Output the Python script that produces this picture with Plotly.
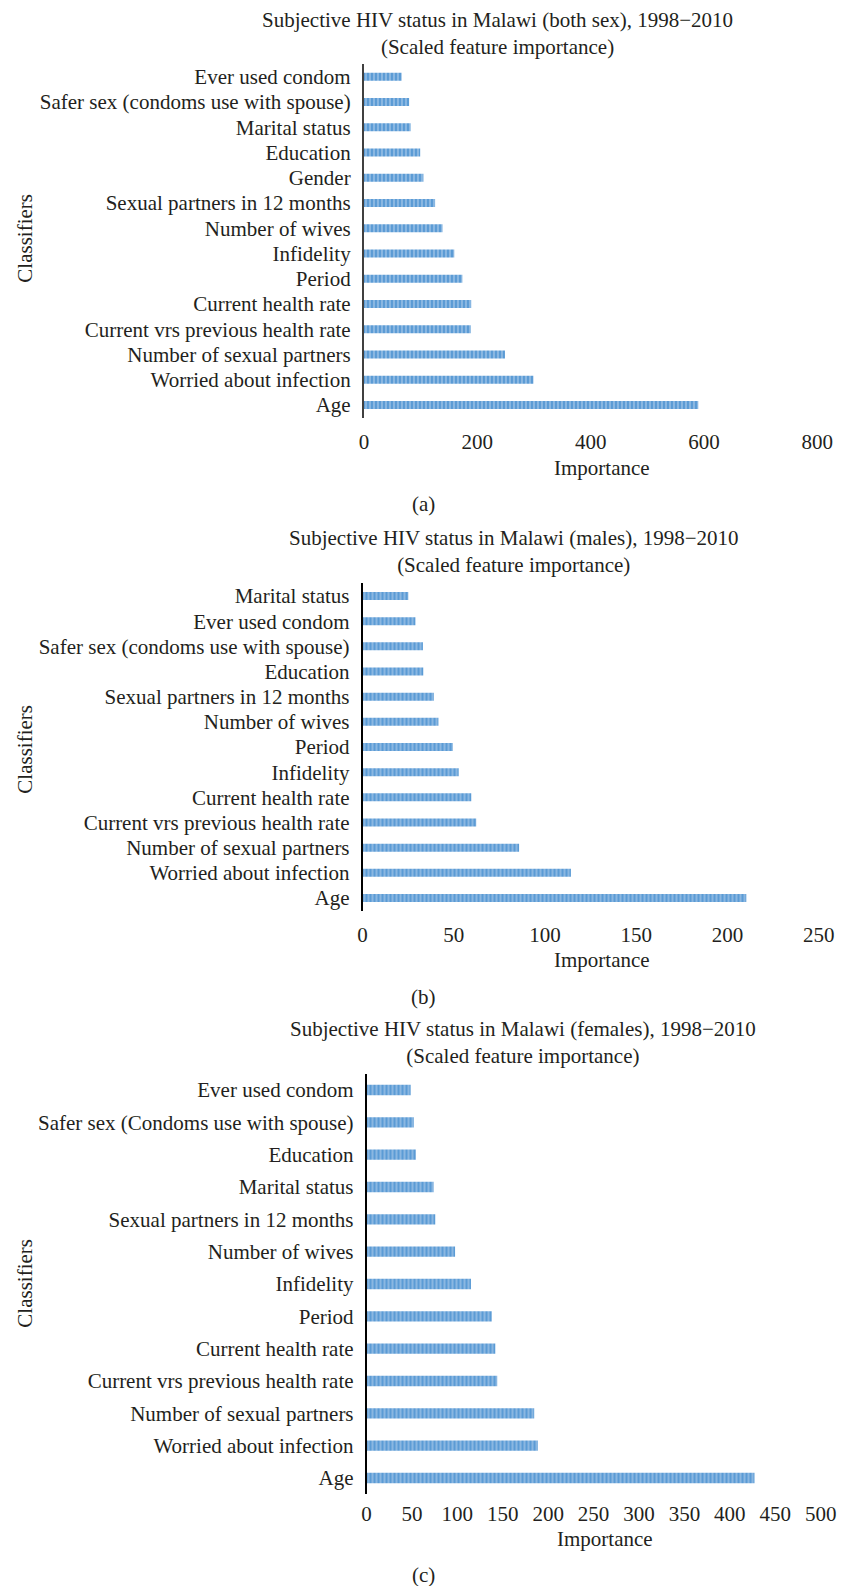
import plotly.graph_objects as go

W, H = 853, 1594
OFF = 8                      # default page margin of the html body
FW, FH = W - 2 * OFF, H - 2 * OFF

cats_a = ["Ever used condom", "Safer sex (condoms use with spouse)", "Marital status", "Education",
          "Gender", "Sexual partners in 12 months", "Number of wives", "Infidelity", "Period",
          "Current health rate", "Current vrs previous health rate", "Number of sexual partners",
          "Worried about infection", "Age"]
vals_a = [66.5, 79.7, 82.5, 99.2, 104.9, 125.5, 138.7, 159.4, 173.7, 189.2, 188.6, 248.8, 299, 590]

cats_b = ["Marital status", "Ever used condom", "Safer sex (condoms use with spouse)", "Education",
          "Sexual partners in 12 months", "Number of wives", "Period", "Infidelity",
          "Current health rate", "Current vrs previous health rate", "Number of sexual partners",
          "Worried about infection", "Age"]
vals_b = [25.1, 29.0, 33.1, 33.3, 39.1, 41.6, 49.5, 52.7, 59.6, 62.3, 85.8, 114.2, 210.3]

cats_c = ["Ever used condom", "Safer sex (Condoms use with spouse)", "Education", "Marital status",
          "Sexual partners in 12 months", "Number of wives", "Infidelity", "Period",
          "Current health rate", "Current vrs previous health rate", "Number of sexual partners",
          "Worried about infection", "Age"]
vals_c = [48.6, 52.1, 54.3, 73.9, 75.7, 97.5, 115.0, 137.9, 141.8, 143.9, 184.6, 188.6, 427.1]

titles = ["Subjective HIV status in Malawi (both sex), 1998\u22122010<br>(Scaled feature importance)",
          "Subjective HIV status in Malawi (males), 1998\u22122010<br>(Scaled feature importance)",
          "Subjective HIV status in Malawi (females), 1998\u22122010<br>(Scaled feature importance)"]
x_ranges = [[0, 800], [0, 250], [0, 500]]
x_dtick = [200, 50, 50]
panel_letters = ["(a)", "(b)", "(c)"]

FONT = "Liberation Serif"
FS = 21
TXT = "#231F20"
BLUE = "#5B9BD5"
LIGHT = "#E2EDF8"


def X(p):
    return (p - OFF) / FW


def Y(p):
    return 1 - (p - OFF) / FH


# pixel layout in the page
px_y = [(64.1, 417.6), (583.4, 910.6), (1073.8, 1494.2)]
px_x = [(368, 833), (366.5, 834.5), (370.6, 836.5)]
title_xy = [(505, 34), (521, 551), (531, 1042)]
imp_xy = [(612, 468), (612, 959.5), (615, 1539)]
letter_xy = [(429, 504), (429, 997), (429, 1575)]
class_y = [238, 749, 1283]
ticklens = [5, 5, 1]
axis_line = [("#404040", 2.2), ("#000000", 1.5), ("#000000", 1.5)]

fig = go.Figure()
data = [(cats_a, vals_a), (cats_b, vals_b), (cats_c, vals_c)]
for i, (cats, vals) in enumerate(data):
    n = "" if i == 0 else str(i + 1)
    fig.add_trace(go.Bar(
        x=vals, y=cats, orientation="h",
        xaxis="x" + n, yaxis="y" + n,
        marker=dict(color=BLUE, line=dict(width=0),
                    pattern=dict(shape="|", fgcolor=LIGHT, bgcolor=BLUE, size=4, solidity=0.35)),
        width=0.32, showlegend=False, hoverinfo="x+y"))
    x0, x1 = px_x[i]
    yt, yb = px_y[i]
    fig.update_layout({
        "xaxis" + n: dict(domain=[X(x0), X(x1)], range=x_ranges[i], dtick=x_dtick[i],
                          anchor="y" + n, showgrid=False, zeroline=False, showline=False,
                          ticks="outside", ticklen=ticklens[i], tickcolor="rgba(0,0,0,0)",
                          ticklabeloverflow="allow",
                          tickfont=dict(family=FONT, size=FS, color=TXT)),
        "yaxis" + n: dict(domain=[Y(yb), Y(yt)], anchor="x" + n, type="category",
                          autorange="reversed", showgrid=False, zeroline=False,
                          showline=True, linecolor=axis_line[i][0], linewidth=axis_line[i][1],
                          ticks="outside", ticklen=7, tickcolor="rgba(0,0,0,0)",
                          ticklabeloverflow="allow",
                          tickfont=dict(family=FONT, size=FS, color=TXT)),
    })
    anns = [
        dict(text=titles[i], x=X(title_xy[i][0]), y=Y(title_xy[i][1]), xanchor="center",
             yanchor="middle", font=dict(family=FONT, size=FS, color=TXT)),
        dict(text="Importance", x=X(imp_xy[i][0]), y=Y(imp_xy[i][1]), xanchor="center",
             yanchor="middle", font=dict(family=FONT, size=FS, color=TXT)),
        dict(text=panel_letters[i], x=X(letter_xy[i][0]), y=Y(letter_xy[i][1]), xanchor="center",
             yanchor="middle", font=dict(family=FONT, size=FS, color=TXT)),
        dict(text="Classifiers", x=X(20), y=Y(class_y[i]), xanchor="center", yanchor="middle",
             textangle=-90, font=dict(family=FONT, size=FS, color=TXT)),
    ]
    for a in anns:
        fig.add_annotation(xref="paper", yref="paper", showarrow=False, **a)

fig.update_layout(width=FW, height=FH, margin=dict(l=0, r=0, t=0, b=0),
                  paper_bgcolor="white", plot_bgcolor="white",
                  font=dict(family=FONT, size=FS, color=TXT))

fig.write_html("out.html")
